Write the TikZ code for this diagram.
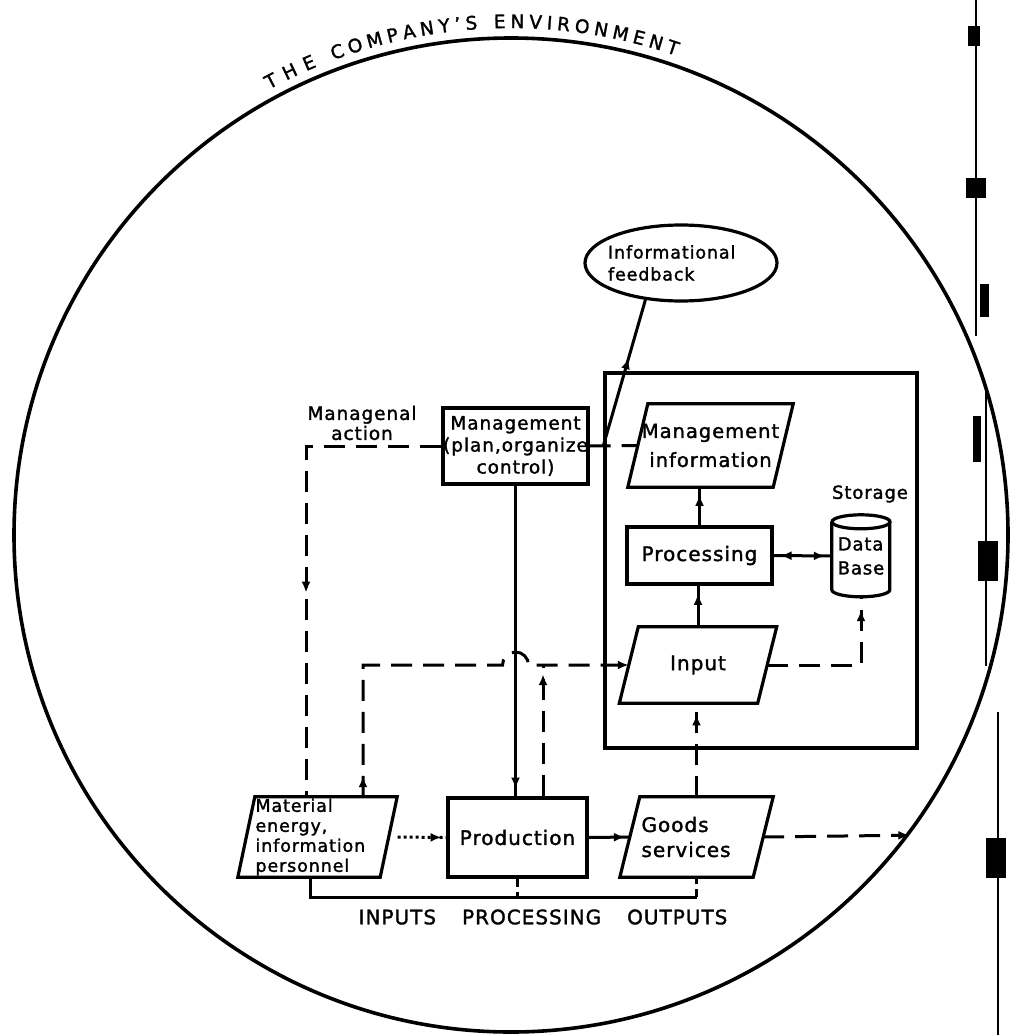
\documentclass[tikz,border=0pt]{standalone}
\usepackage{fontspec}
\setmainfont{DejaVu Sans}[LetterSpace=5, FakeBold=1.6]
\usetikzlibrary{arrows.meta,decorations.markings,decorations.text,shapes.geometric}
\newcommand\fsz[2]{\fontsize{#1}{#2}\selectfont}
\newcommand\drawpara[2]{%
  \draw[outline] ([xshift=#2]#1.north west) -- ([xshift=#2]#1.north east) -- ([xshift=-#2]#1.south east) -- ([xshift=-#2]#1.south west) -- cycle;}
\begin{document}
\begin{tikzpicture}[x=1pt,y=-1pt,
  outline/.style={line width=3.2pt, line join=miter},
  box/.style={draw, outline, inner sep=0pt},
  para/.style={inner sep=0pt},
  conn/.style={line width=3pt},
  dsh/.style={conn, dash pattern=on 21pt off 11pt},
  dtd/.style={conn, dash pattern=on 3pt off 3pt},
  tipat/.style={postaction={decorate, decoration={markings, mark=at position #1 with {\arrow{Latex[length=11pt,width=9pt]}}}}},
  revat/.style={postaction={decorate, decoration={markings, mark=at position #1 with {\arrowreversed{Latex[length=11pt,width=9pt]}}}}},
  endtip/.style={-{Latex[length=11pt,width=9pt]}},
]
\useasboundingbox (0,0) rectangle (1011,1035);

% environment
\node[draw, circle, line width=3.6pt, minimum size=994pt, inner sep=0pt] (env) at (511,535) {};
\path[decorate, decoration={text along path, text={|\fsz{18.5}{22}|THE}, text align={fit to path}}]
  (env.center) ++(-118.5:507) arc[start angle=-118.5, end angle=-112.5, radius=507];
\path[decorate, decoration={text along path, text={|\fsz{18.5}{22}|COMPANY'S ENVIRONMENT}, text align={fit to path}}]
  (env.center) ++(-110.5:507) arc[start angle=-110.5, end angle=-71, radius=507];

% information system frame
\node[box, minimum width=312pt, minimum height=375pt] (sys) at (761,560.5) {};

% nodes
\node[box, minimum width=145pt, minimum height=76pt, align=center, font=\fsz{18.5}{22}] (mgmt) at (515.5,446) {Management\\(plan,organize\\control)};
\node[para, minimum width=145pt, minimum height=83pt, align=center, font=\fsz{19.5}{29}] (mi) at (710.5,445.5) {Management\\information};
\drawpara{mi}{10pt}
\node[box, minimum width=145pt, minimum height=57pt, font=\fsz{20}{24}] (proc) at (699.5,555.5) {Processing};
\node[para, minimum width=138pt, minimum height=76pt, font=\fsz{20}{24}] (inp) at (698,665) {Input};
\drawpara{inp}{9.5pt}
\node[para, minimum width=58pt, minimum height=82pt, align=left, font=\fsz{18}{24}] (db) at (861,556) {Data\\Base};
\draw[outline] (db.north west) ++(0,7) -- ++(0,68) arc[start angle=180, end angle=0, x radius=29, y radius=7] -- ++(0,-68);
\draw[outline] (db.north) ++(0,7) ellipse[x radius=29, y radius=7];
\node[font=\fsz{18}{22}, inner sep=0pt] (stor) at (870,494) {Storage};

\node[para, minimum width=142pt, minimum height=80pt, text width=124pt, align=left, font=\fsz{17.5}{20}] (mat) at (317.5,837) {Material\\energy,\\information\\personnel};
\drawpara{mat}{8.5pt}
\node[box, minimum width=139pt, minimum height=79pt, font=\fsz{20}{24}] (prod) at (517.5,837.5) {Production};
\node[para, minimum width=133pt, minimum height=80pt, text width=110pt, align=left, font=\fsz{20}{25}] (goods) at (696.5,837) {Goods\\services};
\drawpara{goods}{10pt}

\node[box, ellipse, minimum width=192pt, minimum height=76pt, inner sep=-14pt, text width=146pt, align=left, font=\fsz{17.5}{22}] (fb) at (681,263) {Informational\\feedback};

\node[font=\fsz{18.5}{20}, align=center, inner sep=0pt] (mact) at (362,423) {Managenal\\action};
\node[font=\fsz{20}{24}, inner sep=0pt] (ipo) at (543,917) {INPUTS\hspace{26pt}PROCESSING\hspace{26pt}OUTPUTS};

% connectors
\draw[dsh] (mgmt.east) -- (mi.west);
\draw[conn, tipat=0.6] (sys.west |- mi.west) -- (fb.226);
\draw[dsh, tipat=0.58] (mgmt.west) -| ([xshift=-11.5pt]mat.north);
\draw[conn, tipat=0.975] (mgmt.south) -- (mgmt.south |- prod.north);
\draw[dtd, tipat=0.9] ([xshift=9pt]mat.east) -- (prod.west);
\draw[conn, tipat=0.88] (prod.east) -- (goods.west);
\draw[dsh, endtip] (goods.east) -- (env.-37.4);
\draw[dsh, tipat=0.88] (goods.north) -- (goods.north |- inp.south);
\draw[conn, tipat=0.8] (inp.north) -- (inp.north |- proc.south);
\draw[conn, tipat=0.8] (proc.north) -- (proc.north |- mi.south);
\draw[conn, tipat=0.88, revat=0.12] (proc.east) -- (db.west);
\draw[dsh, tipat=0.92] (inp.east) -| (db.south);
\coordinate (hump) at (mgmt.south |- inp.west);
\draw[dsh, tipat=0.05, endtip] ([xshift=45.5pt]mat.north) |- ([xshift=-13pt]hump) arc[start angle=180, end angle=360, radius=13] -- (inp.west);
\draw[dsh, tipat=0.93] ([xshift=25.5pt]prod.north) -- ([xshift=25.5pt]prod.north |- inp.west);
\draw[conn] ([xshift=-7.5pt]mat.south) -- ++(0,20) coordinate (bl) -- (bl -| goods.south) coordinate (br);
\draw[conn, dash pattern=on 8pt off 5pt] (br) -- (goods.south);
\draw[conn, dash pattern=on 8pt off 5pt] (prod.south) -- (prod.south |- bl);

% scanned page edge
\begin{scope}[line width=2.5pt]
\draw (976,0) -- (976,336);
\draw (986,392) -- (986,666);
\draw (998,712) -- (998,1035);
\fill (968,26) rectangle (980,46);
\fill (966,178) rectangle (986,198);
\fill (980,284) rectangle (989,317);
\fill (973,416) rectangle (981,462);
\fill (978,541) rectangle (998,581);
\fill (986,838) rectangle (1006,878);
\end{scope}
\end{tikzpicture}
\end{document}
